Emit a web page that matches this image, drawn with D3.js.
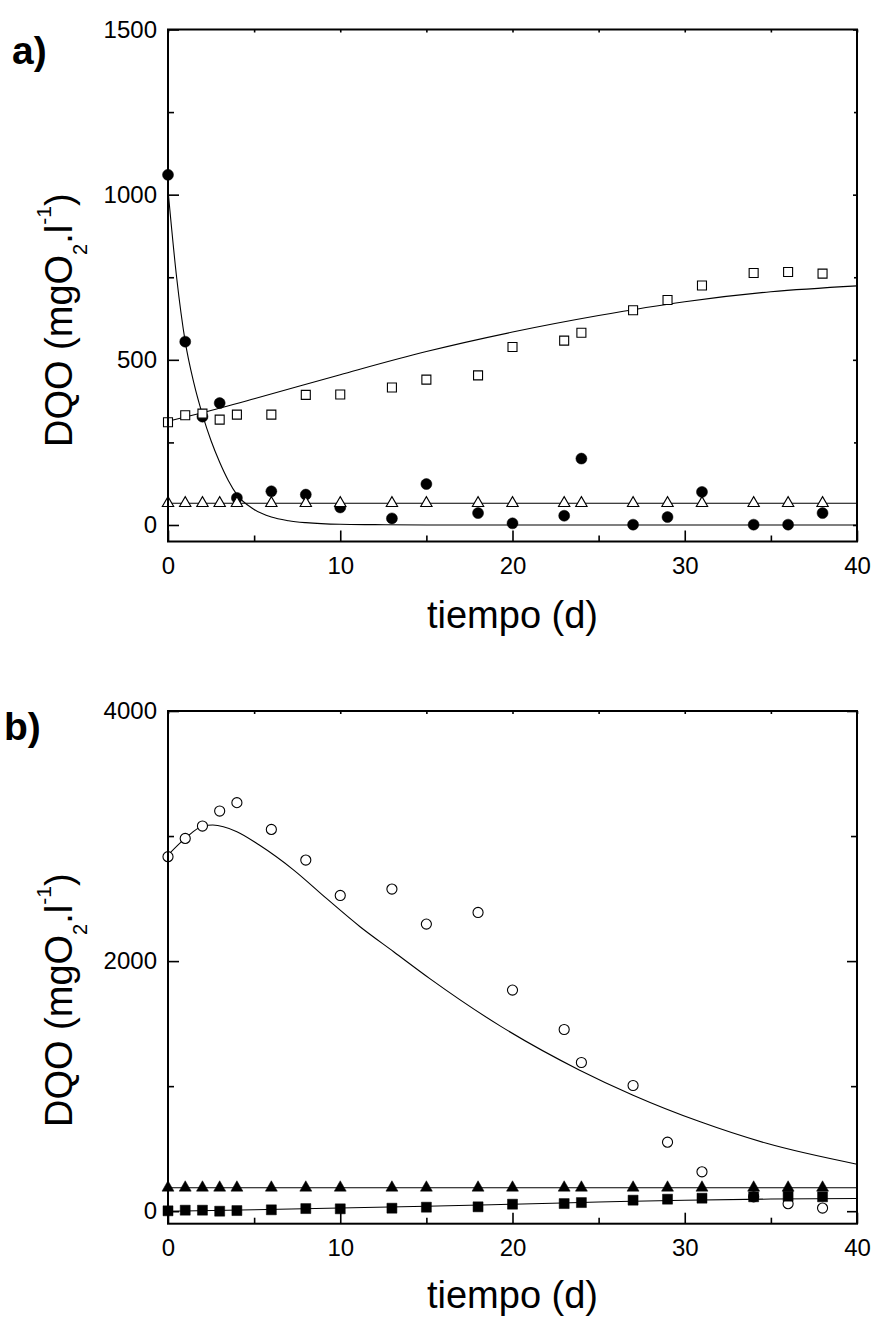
<!DOCTYPE html>
<html>
<head>
<meta charset="utf-8">
<script src="https://cdn.jsdelivr.net/npm/d3@7"></script>
<style>
  body { margin: 0; background: #fff; }
  text { font-family: "Liberation Sans", Arial, Helvetica, sans-serif; fill: #000; }
</style>
</head>
<body>
<svg id="chart" width="875" height="1318"></svg>
<script>
// ---- sampling days (shared by both panels) ----
const days = [0, 1, 2, 3, 4, 6, 8, 10, 13, 15, 18, 20, 23, 24, 27, 29, 31, 34, 36, 38];

// ---- panel a): COD (mgO2/l) ----
const codA_filledCircle = [1060, 555, 328, 369, 82, 102, 92, 53, 20, 124, 36, 5, 28, 201, 1, 24, 100, 1, 1, 36];
const codA_openSquare   = [311, 332, 337, 319, 334, 334, 394, 395, 416, 440, 453, 539, 558, 582, 650, 681, 725, 763, 766, 761];
const codA_openTriangle = [66, 66, 66, 66, 66, 66, 66, 66, 66, 66, 66, 66, 66, 66, 66, 66, 66, 66, 66, 66];

// fitted curves, panel a)
const fitA_decayT  = [0, 0.5, 1, 1.5, 2, 2.5, 3, 3.5, 4, 5, 6, 7, 8, 10, 12, 15, 20, 30, 40];
const fitA_decayV  = [1014, 750, 555, 430, 334, 255, 190, 135, 92, 47, 24, 13, 7, 2, 1, 0, 0, 0, 0];
const fitA_growT   = [0, 2, 5, 10, 15, 20, 25, 30, 35, 40];
const fitA_growV   = [314, 340, 382, 455, 525, 584, 634, 676, 706, 724];
const fitA_flatT   = [0, 40];
const fitA_flatV   = [66, 66];

// ---- panel b): COD (mgO2/l) ----
const codB_openCircle     = [2835, 2981, 3080, 3200, 3267, 3053, 2808, 2525, 2576, 2296, 2389, 1768, 1453, 1189, 1005, 552, 315, 115, 60, 25];
const codB_filledSquare   = [3, 8, 8, 0, 5, 11, 21, 19, 24, 32, 35, 56, 61, 69, 88, 96, 104, 115, 120, 115];
const codB_filledTriangle = [188, 188, 188, 188, 188, 188, 188, 188, 188, 188, 188, 188, 188, 188, 188, 188, 188, 188, 188, 188];

// fitted curves, panel b)
const fitB_peakT  = [0, 1, 2, 2.6, 4, 5.3, 7.3, 9.2, 11.15, 13.1, 15.2, 19.3, 23.9, 27, 30.9, 34.8, 40];
const fitB_peakV  = [2848, 2981, 3078, 3088, 3035, 2928, 2728, 2501, 2275, 2075, 1860, 1480, 1128, 928, 715, 541, 376];
const fitB_riseT  = [0, 5, 10, 15, 20, 25, 30, 35, 40];
const fitB_riseV  = [0, 12, 25, 40, 56, 73, 88, 97, 102];
const fitB_flatT  = [0, 40];
const fitB_flatV  = [188, 188];

// ---- axis ticks ----
const xMajor = [0, 10, 20, 30, 40];
const xMinor = [5, 15, 25, 35];
const yMajorA = [0, 500, 1000, 1500];
const yMinorA = [250, 750, 1250];
const yMajorB = [0, 2000, 4000];
const yMinorB = [1000, 3000];

const svg = d3.select("#chart");
const zip = (xs, ys) => xs.map((d, i) => [d, ys[i]]);

function drawPanel(p) {
  const x = d3.scaleLinear().domain([0, 40]).range([p.left, p.right]);
  const y = d3.scaleLinear().domain(p.yDomain).range([p.bottom, p.top]);
  const g = svg.append("g");

  const strip = sel => sel.call(s => s.select(".domain").remove())
    .call(s => s.selectAll(".tick line").attr("stroke", "#000").attr("stroke-width", 1.6));

  // bottom axis: major ticks with labels, minor ticks without
  g.append("g").attr("transform", `translate(0,${p.bottom})`)
    .call(d3.axisBottom(x).tickValues(xMajor).tickSizeInner(-11).tickSizeOuter(0).tickPadding(15).tickFormat(d3.format("d")))
    .call(strip)
    .call(s => s.selectAll("text").attr("font-size", 24).attr("font-family", "Liberation Sans, Arial, sans-serif").attr("fill", "#000"));
  g.append("g").attr("transform", `translate(0,${p.bottom})`)
    .call(d3.axisBottom(x).tickValues(xMinor).tickSizeInner(-6).tickSizeOuter(0).tickFormat(""))
    .call(strip);

  // left axis
  g.append("g").attr("transform", `translate(${p.left},0)`)
    .call(d3.axisLeft(y).tickValues(p.yMajor).tickSizeInner(-11).tickSizeOuter(0).tickPadding(11).tickFormat(d3.format("d")))
    .call(strip)
    .call(s => s.selectAll("text").attr("font-size", 24).attr("font-family", "Liberation Sans, Arial, sans-serif").attr("fill", "#000"));
  g.append("g").attr("transform", `translate(${p.left},0)`)
    .call(d3.axisLeft(y).tickValues(p.yMinor).tickSizeInner(-6).tickSizeOuter(0).tickFormat(""))
    .call(strip);

  // mirrored ticks on top and right edges
  g.append("g").attr("transform", `translate(0,${p.top})`)
    .call(d3.axisTop(x).tickValues(xMajor.concat(xMinor)).tickSizeInner(-3).tickSizeOuter(0).tickFormat(""))
    .call(strip);
  g.append("g").attr("transform", `translate(${p.right},0)`)
    .call(d3.axisRight(y).tickValues(p.yMajor).tickSizeInner(-p.rightMajor).tickSizeOuter(0).tickFormat(""))
    .call(strip);
  g.append("g").attr("transform", `translate(${p.right},0)`)
    .call(d3.axisRight(y).tickValues(p.yMinor).tickSizeInner(-p.rightMinor).tickSizeOuter(0).tickFormat(""))
    .call(strip);

  // fitted curves
  const line = d3.line().x(d => x(d[0])).y(d => y(d[1])).curve(d3.curveMonotoneX);
  p.fits.forEach(f => {
    g.append("path").datum(zip(f.t, f.v))
      .attr("d", line).attr("fill", "none").attr("stroke", "#000").attr("stroke-width", 1.1);
  });

  // data markers
  p.series.forEach(s => {
    const sym = d3.symbol().type(s.type).size(s.size);
    g.append("g").selectAll("path").data(zip(days, s.values)).join("path")
      .attr("transform", d => `translate(${x(d[0])},${y(d[1])})`)
      .attr("d", sym())
      .attr("fill", s.filled ? "#000" : "#fff")
      .attr("stroke", "#000")
      .attr("stroke-width", s.filled ? 0.5 : 1.1);
  });

  // frame
  g.append("rect").attr("x", p.left).attr("y", p.top)
    .attr("width", p.right - p.left).attr("height", p.bottom - p.top)
    .attr("fill", "none").attr("stroke", "#000").attr("stroke-width", 2);

  // panel tag
  g.append("text").attr("x", p.tagX).attr("y", p.tagY)
    .attr("font-size", 39).attr("font-weight", "bold").text(p.tag);

  // x title
  g.append("text").attr("x", (p.left + p.right) / 2).attr("y", p.xTitleY)
    .attr("text-anchor", "middle").attr("font-size", 38).text("tiempo (d)");

  // y title
  const yt = g.append("text")
    .attr("transform", `translate(72,${p.yTitleStart}) rotate(-90)`)
    .attr("font-size", 38);
  yt.append("tspan").text("DQO (mgO");
  yt.append("tspan").attr("font-size", 20).attr("dy", 15).text("2");
  yt.append("tspan").attr("dy", -15).text(".l");
  yt.append("tspan").attr("font-size", 21).attr("dy", -21).text("-1");
  yt.append("tspan").attr("dy", 21).text(")");
}

drawPanel({
  left: 168, right: 857, top: 29.5, bottom: 541.5,
  yDomain: [-50, 1500], yMajor: yMajorA, yMinor: yMinorA,
  rightMajor: 4, rightMinor: 3,
  tag: "a)", tagX: 12, tagY: 64, xTitleY: 628, yTitleStart: 447,
  fits: [
    { t: fitA_decayT, v: fitA_decayV },
    { t: fitA_growT, v: fitA_growV },
    { t: fitA_flatT, v: fitA_flatV }
  ],
  series: [
    { values: codA_filledCircle, type: d3.symbolCircle, size: 95, filled: true },
    { values: codA_openSquare, type: d3.symbolSquare, size: 81, filled: false },
    { values: codA_openTriangle, type: d3.symbolTriangle, size: 56, filled: false }
  ]
});

drawPanel({
  left: 168, right: 857, top: 711, bottom: 1223.7,
  yDomain: [-100, 4000], yMajor: yMajorB, yMinor: yMinorB,
  rightMajor: 10, rightMinor: 6,
  tag: "b)", tagX: 4, tagY: 740, xTitleY: 1308, yTitleStart: 1127,
  fits: [
    { t: fitB_peakT, v: fitB_peakV },
    { t: fitB_riseT, v: fitB_riseV },
    { t: fitB_flatT, v: fitB_flatV }
  ],
  series: [
    { values: codB_openCircle, type: d3.symbolCircle, size: 80, filled: false },
    { values: codB_filledSquare, type: d3.symbolSquare, size: 100, filled: true },
    { values: codB_filledTriangle, type: d3.symbolTriangle, size: 62, filled: true }
  ]
});
</script>
</body>
</html>
